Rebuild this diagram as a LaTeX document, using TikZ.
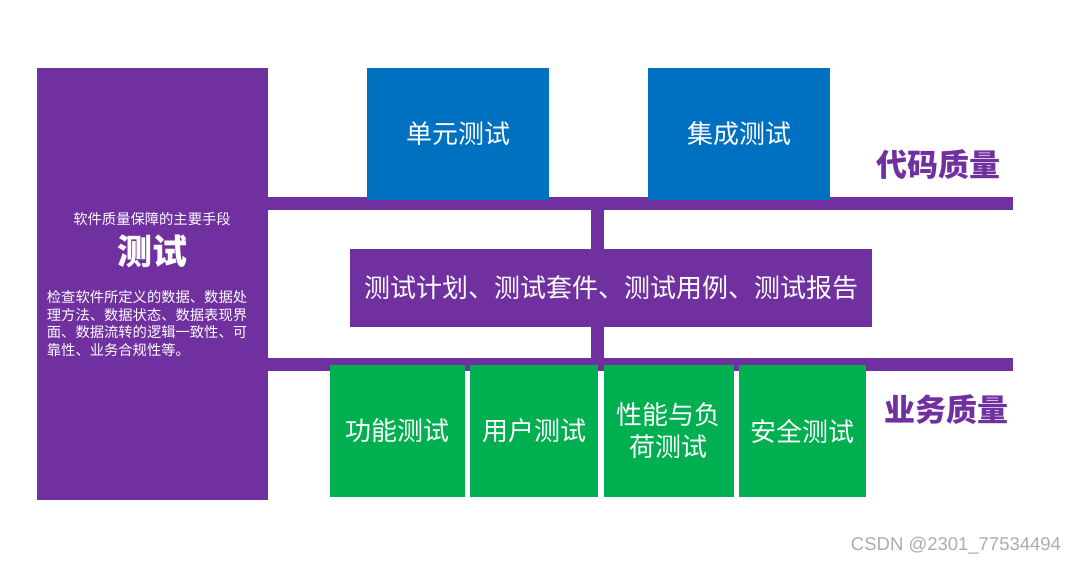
\documentclass[tikz,border=0pt]{standalone}
\usepackage{fontspec}
\newfontfamily\cjk{Noto Sans CJK SC}
\setsansfont{Liberation Sans}
\usetikzlibrary{positioning, backgrounds}
\definecolor{qpurple}{HTML}{7030A0}
\definecolor{qblue}{HTML}{0070C0}
\definecolor{qgreen}{HTML}{00B050}

\begin{document}
\begin{tikzpicture}[
    x=1pt, y=-1pt,
    node distance=5pt and 5pt,
    box/.style={rectangle, inner sep=0pt, align=center, text=white, font=\cjk\fontsize{26}{32}\selectfont},
    codebox/.style={box, fill=qblue, minimum width=182pt, minimum height=132pt},
    bizbox/.style={box, fill=qgreen, minimum height=132pt},
    bar/.style={qpurple, line width=13pt},
    tag/.style={text=qpurple, font=\cjk\bfseries\fontsize{31}{36}\selectfont}
]
    \useasboundingbox (0,0) rectangle (1078,564);

    \node[box, fill=qpurple, minimum width=231pt, minimum height=432pt] (side) at (152.5,284) {};
    \node[text=white, font=\cjk\fontsize{14.3}{17}\selectfont] (sub) at (152,219) {软件质量保障的主要手段};
    \node[text=white, font=\cjk\bfseries\fontsize{35}{40}\selectfont] (title) at (152,251) {测试};
    \node[text=white, inner sep=0pt, align=left, font=\cjk\fontsize{14.3}{17.7}\selectfont] (desc) at (147,323.5)
        {检查软件所定义的数据、数据处\\理方法、数据状态、数据表现界\\面、数据流转的逻辑一致性、可\\靠性、业务合规性等。};

    \node[codebox] (unit) at (458,134) {单元测试};
    \node[codebox] (integ) at (739,134) {集成测试};
    \node[tag] (codeq) at (938,165) {代码质量};

    \node[box, fill=qpurple, minimum width=522pt, minimum height=78pt] (plan) at (611,288)
        {测试计划、测试套件、测试用例、测试报告};

    \node[bizbox, minimum width=135pt] (func) at (397.5,431) {功能测试};
    \node[bizbox, minimum width=128pt, right=of func] (user) {用户测试};
    \node[bizbox, minimum width=130pt, right=of user] (perf) {性能与负\\荷测试};
    \node[bizbox, minimum width=127pt, right=of perf] (secu) {安全测试};
    \node[tag] (bizq) at (946,410) {业务质量};

    \coordinate (codeend) at (1013,203.5);
    \coordinate (bizend) at (1013,364.5);
    \coordinate (hubtop) at (597,203.5);
    \coordinate (hubbot) at (597,364.5);

    \begin{scope}[on background layer]
        \draw[bar] (side.east |- codeend) -- (codeend);
        \draw[bar] (side.east |- bizend) -- (bizend);
        \draw[bar] (hubtop) -- (hubbot);
    \end{scope}

    \node[text=gray!65, font=\sffamily\fontsize{18.5}{20}\selectfont] (mark) at (956,546) {CSDN @2301\_77534494};
\end{tikzpicture}
\end{document}
